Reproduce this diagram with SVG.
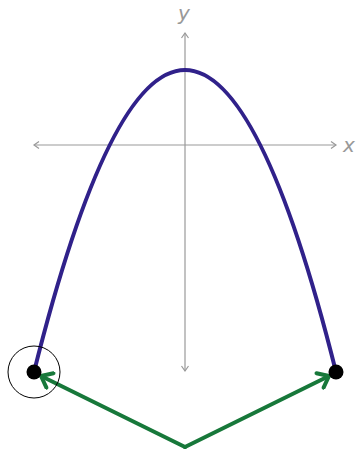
<svg xmlns="http://www.w3.org/2000/svg" width="358" height="450" viewBox="0 0 358 450">
<style>
.axis{stroke:#999;stroke-width:1.2;fill:none}
.lbl{font-family:"DejaVu Sans",sans-serif;font-style:italic;font-size:20px;fill:#999}
.curve{stroke:#30218a;stroke-width:4;fill:none}
.vec{stroke:#17783a;stroke-width:4;fill:none;stroke-linecap:round}
</style>
<defs>
<marker id="ah" viewBox="0 0 10 10" refX="8" refY="5" markerWidth="10" markerHeight="10" markerUnits="userSpaceOnUse" orient="auto">
<path d="M3,1.5 L8,5 L3,8.5" stroke="#999" stroke-width="1.2" fill="none"/>
</marker>
<marker id="gh" viewBox="0 0 20 20" refX="15" refY="10" markerWidth="20" markerHeight="20" markerUnits="userSpaceOnUse" orient="auto">
<path d="M5,2 L15,10 L5,18" stroke="#17783a" stroke-width="4" fill="none" stroke-linecap="round" stroke-linejoin="miter"/>
</marker>
</defs>
<g id="axes">
<line class="axis" x1="185" y1="145" x2="336" y2="145" marker-end="url(#ah)"/>
<line class="axis" x1="185" y1="145" x2="34" y2="145" marker-end="url(#ah)"/>
<line class="axis" x1="185" y1="145" x2="185" y2="33" marker-end="url(#ah)"/>
<line class="axis" x1="185" y1="145" x2="185" y2="371" marker-end="url(#ah)"/>
<text class="lbl" x="343" y="152">x</text>
<text class="lbl" x="178" y="20">y</text>
</g>
<g id="parabola">
<path class="curve" d="M34,372 Q185,-232 336,372"/>
</g>
<g id="connectors">
<line class="vec" x1="185" y1="447" x2="41" y2="376" marker-end="url(#gh)"/>
<line class="vec" x1="185" y1="447" x2="329" y2="376" marker-end="url(#gh)"/>
</g>
<g id="left-point">
<circle cx="34" cy="372" r="26" fill="none" stroke="#000" stroke-width="1"/>
<circle cx="34" cy="372" r="7.5" fill="#000"/>
</g>
<g id="right-point">
<circle cx="336" cy="372" r="7.5" fill="#000"/>
</g>
</svg>
